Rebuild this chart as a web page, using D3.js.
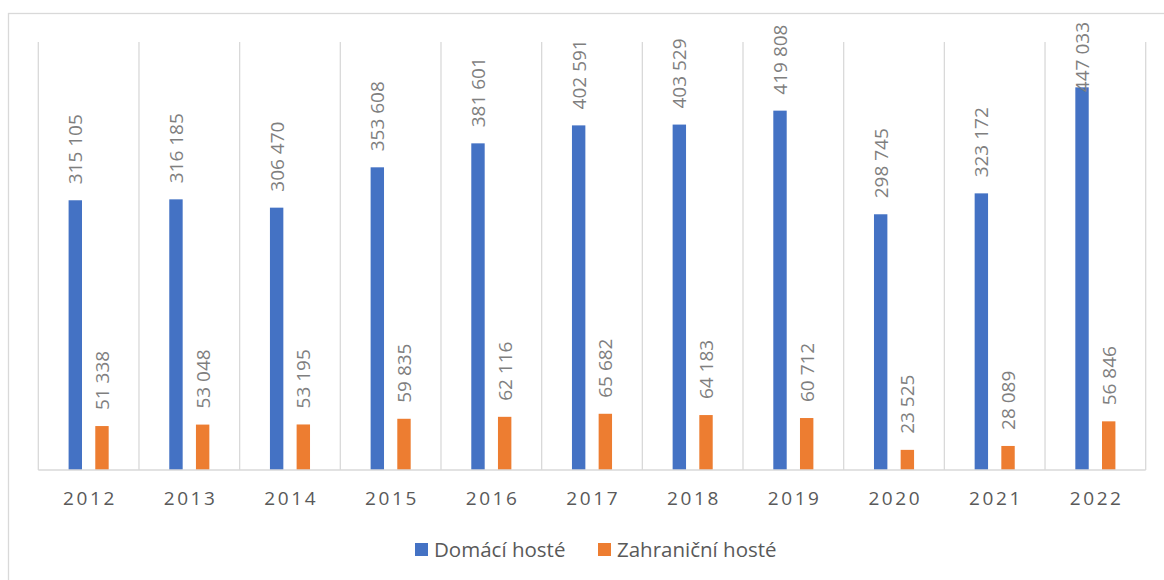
<!DOCTYPE html>
<html>
<head>
<meta charset="utf-8">
<script src="https://cdn.jsdelivr.net/npm/d3@7"></script>
<style>
    body { margin: 0; background: #fff; }
    svg { display: block; font-family: "Open Sans", sans-serif; }
</style>
</head>
<body>
<div id="chart"></div>
<script>

// data
const years = ["2012", "2013", "2014", "2015", "2016", "2017", "2018", "2019", "2020", "2021", "2022"];
const domaci = [315105, 316185, 306470, 353608, 381601, 402591, 403529, 419808, 298745, 323172, 447033];
const zahranicni = [51338, 53048, 53195, 59835, 62116, 65682, 64183, 60712, 23525, 28089, 56846];
const seriesNames = ["Domácí hosté", "Zahraniční hosté"];
const seriesColors = ["#4472C4", "#ED7D31"];

const width = 1164, height = 580;
const margin = {top: 42, right: 18.3, bottom: 110, left: 38.3};

const svg = d3.select("#chart").append("svg")
    .attr("width", width)
    .attr("height", height);

// chart border (runs off the right and bottom edge)
svg.append("rect")
    .attr("x", 8.5).attr("y", 13.5)
    .attr("width", 1200).attr("height", 600)
    .attr("fill", "none")
    .attr("stroke", "#d9d9d9")
    .attr("stroke-width", 1.3);

const x0 = d3.scaleBand()
    .domain(years)
    .range([margin.left, width - margin.right]);

const bw = x0.bandwidth();
const x1 = d3.scaleBand()
    .domain(seriesNames)
    .range([bw * 0.235, bw * 0.765]);
const barW = 13.4;

const y = d3.scaleLinear()
    .domain([0, 500000])
    .range([470, margin.top]);

const table = years.map((yr, i) => ({year: yr, values: [domaci[i], zahranicni[i]]}));

// vertical gridlines between categories
const gridX = years.map(d => x0(d)).concat([x0.range()[1]]);
svg.append("g")
    .selectAll("line")
    .data(gridX)
    .join("line")
    .attr("x1", d => d).attr("x2", d => d)
    .attr("y1", y(500000)).attr("y2", y(0))
    .attr("stroke", "#d9d9d9")
    .attr("stroke-width", 1.3);

// bars
const groups = svg.append("g")
    .selectAll("g")
    .data(table)
    .join("g")
    .attr("transform", d => `translate(${x0(d.year)},0)`);

groups.selectAll("rect")
    .data(d => d.values.map((v, k) => ({name: seriesNames[k], value: v, k: k})))
    .join("rect")
    .attr("x", d => x1(d.name) + (x1.bandwidth() - barW) / 2)
    .attr("width", barW)
    .attr("y", d => y(d.value))
    .attr("height", d => y(0) - y(d.value))
    .attr("fill", d => seriesColors[d.k]);

// axis baseline
svg.append("line")
    .attr("x1", x0.range()[0]).attr("x2", x0.range()[1])
    .attr("y1", y(0)).attr("y2", y(0))
    .attr("stroke", "#d9d9d9")
    .attr("stroke-width", 1.3);

// value labels, rotated; pushed down if they would leave the chart
const fmt = v => d3.format(",")(v).replace(/,/g, " ");
groups.selectAll("text.val")
    .data(d => d.values.map((v, k) => ({name: seriesNames[k], value: v, k: k})))
    .join("text")
    .attr("class", "val")
    .attr("fill", "#7f7f7f")
    .attr("font-size", "19px")
    .attr("dominant-baseline", "central")
    .text(d => fmt(d.value))
    .each(function (d) {
        const len = this.getComputedTextLength();
        let start = y(d.value) - 16;
        if (start - len < 22) start = 22 + len;
        const cx = x1(d.name) + x1.bandwidth() / 2;
        d3.select(this).attr("transform", `translate(${cx},${start}) rotate(-90)`);
    });

// category labels
svg.append("g")
    .selectAll("text")
    .data(years)
    .join("text")
    .attr("x", d => x0(d) + bw / 2 + 1.3)
    .attr("y", 505)
    .attr("text-anchor", "middle")
    .attr("fill", "#595959")
    .attr("font-size", "19px")
    .attr("letter-spacing", "2.6px")
    .text(d => d);

// legend
const legendX = [415, 598];
const legend = svg.append("g")
    .selectAll("g")
    .data(seriesNames)
    .join("g")
    .attr("transform", (d, i) => `translate(${legendX[i]},543)`);

legend.append("rect")
    .attr("width", 13).attr("height", 13)
    .attr("fill", (d, i) => seriesColors[i]);

legend.append("text")
    .attr("x", 19)
    .attr("y", 13.8)
    .attr("fill", "#595959")
    .attr("font-size", "20.5px")
    .text(d => d);

</script>
</body>
</html>
